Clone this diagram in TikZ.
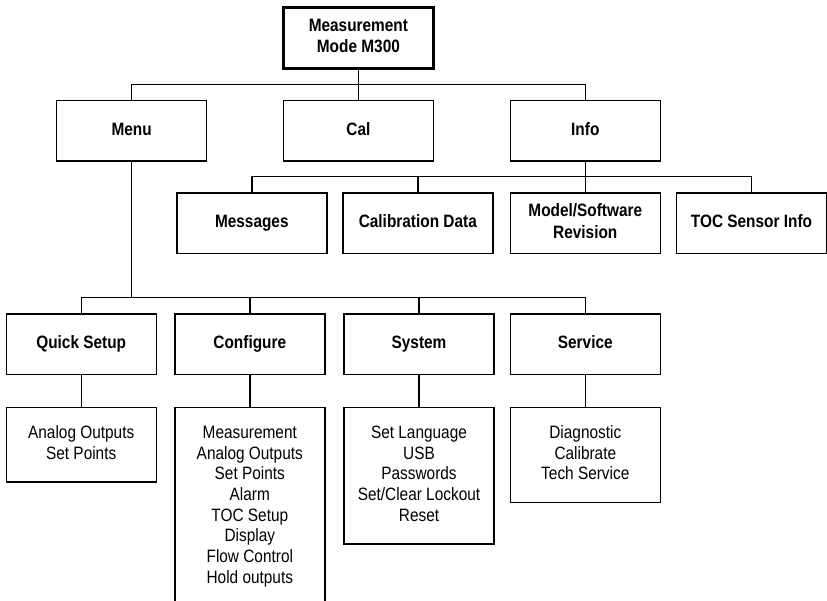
\documentclass[tikz,border=0pt]{standalone}
\usepackage{fontspec}
\setmainfont{Liberation Sans}[FakeStretch=0.86]
\begin{document}
\begin{tikzpicture}[x=1pt,y=-1pt,
  txt/.style={font=\fontsize{17.9}{20.7}\selectfont},
  hdr/.style={draw, line width=1.4pt, minimum width=150pt, minimum height=60.5pt, inner sep=0pt, align=center, font=\fontsize{17.9}{21.3}\selectfont\bfseries},
  topbox/.style={hdr, line width=3.3pt, minimum height=60.7pt},
  lst/.style={draw, line width=1.4pt, minimum width=150pt, inner xsep=0pt, inner ysep=16.6pt, anchor=north, align=center, txt},
  conn/.style={line width=1.4pt}]
\useasboundingbox (0,0) rectangle (827,601);
\clip (0,0) rectangle (827,601);

% top
\node[topbox] (top) at (358.4,38) {\strut Measurement\\Mode M300\strut};

% level 1
\node[hdr] (menu) at (131.7,130.8) {\strut Menu};
\node[hdr] (cal)  at (358.4,130.8) {\strut Cal};
\node[hdr] (info) at (585.3,130.8) {\strut Info};

% level 2 (info children)
\node[hdr] (msg)   at (251.8,223.3) {\strut Messages};
\node[hdr] (cd)    at (417.8,223.3) {\strut Calibration Data};
\node[hdr] (model) at (585.3,223.3) {\strut Model/Software\\Revision\strut};
\node[hdr] (toc)   at (751.5,223.3) {\strut TOC Sensor Info};

% level 3 (menu children)
\node[hdr] (qs)   at (81.2,344.2)  {\strut Quick Setup};
\node[hdr] (conf) at (249.8,344.2) {\strut Configure};
\node[hdr] (sys)  at (419,344.2)   {\strut System};
\node[hdr] (serv) at (585.3,344.2) {\strut Service};

% level 4 lists
\node[lst] (qsl)   at (81.2,406.7)  {\strut Analog Outputs\\Set Points\strut};
\node[lst] (confl) at (249.8,406.7) {\strut Measurement\\Analog Outputs\\Set Points\\Alarm\\TOC Setup\\Display\\Flow Control\\Hold outputs\strut};
\node[lst] (sysl)  at (419,406.7)   {\strut Set Language\\USB\\Passwords\\Set/Clear Lockout\\Reset\strut};
\node[lst] (servl) at (585.3,406.7) {\strut Diagnostic\\Calibrate\\Tech Service\strut};

% bus coordinates
\coordinate (bus1) at (0,84.3);
\coordinate (bus2) at (0,176.7);
\coordinate (bus3) at (0,297.3);

% connectors
\draw[conn] (top.south) -- (cal.north);
\draw[conn] (menu.north) -- (menu.north |- bus1) -- (info.north |- bus1) -- (info.north);

\draw[conn] (info.south) -- (model.north);
\draw[conn] (msg.north) -- (msg.north |- bus2) -- (toc.north |- bus2) -- (toc.north);
\draw[conn] (cd.north) -- (cd.north |- bus2);

\draw[conn] (menu.south) -- (menu.south |- bus3);
\draw[conn] (qs.north) -- (qs.north |- bus3) -- (serv.north |- bus3) -- (serv.north);
\draw[conn] (conf.north) -- (conf.north |- bus3);
\draw[conn] (sys.north) -- (sys.north |- bus3);

\draw[conn] (qs.south) -- (qsl.north);
\draw[conn] (conf.south) -- (confl.north);
\draw[conn] (sys.south) -- (sysl.north);
\draw[conn] (serv.south) -- (servl.north);
\end{tikzpicture}
\end{document}
